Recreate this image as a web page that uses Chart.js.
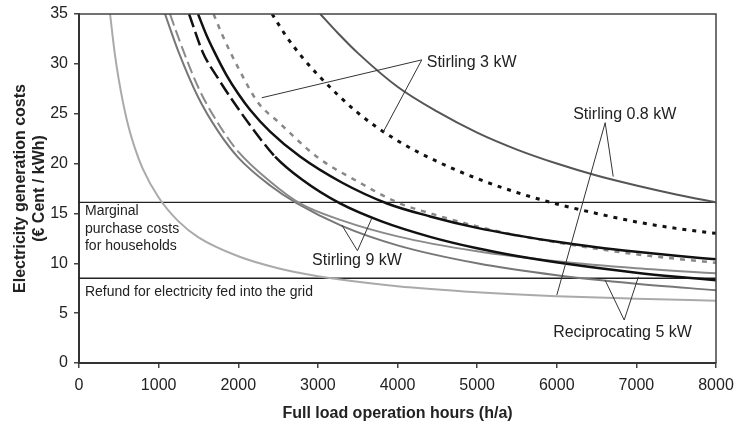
<!DOCTYPE html>
<html lang="en">
<head>
    <meta charset="UTF-8">
    <title>Electricity generation costs</title>
    <script src="https://cdn.jsdelivr.net/npm/chart.js"></script>
    <style>
        body { margin: 0; background: #fff; }
    </style>
</head>
<body>
    <canvas id="chart" width="735" height="424"></canvas>

    <script>
        // curves (hours h/a -> cost in ct/kWh)
        const hoursLight = [390, 450, 500, 600, 700, 800, 1000, 1250, 1500, 2000, 2500, 3000, 4000, 5000, 6000, 7000, 8000];
        const costLight = [35, 31.0, 28.4, 24.4, 21.6, 19.5, 16.6, 14.2, 12.6, 10.7, 9.5, 8.7, 7.7, 7.1, 6.7, 6.45, 6.25];

        const hoursTop = [3030, 3250, 3500, 4000, 4500, 5000, 5500, 6000, 6500, 7000, 7500, 8000];
        const costTop = [35, 33.1, 31.1, 27.7, 25.2, 23.1, 21.4, 20.0, 18.8, 17.8, 16.9, 16.1];

        const hoursBlackDot = [2425, 2600, 2800, 3000, 3500, 4000, 4500, 5000, 5500, 6000, 6500, 7000, 7500, 8000];
        const costBlackDot = [35, 32.8, 30.7, 28.9, 25.1, 22.3, 20.2, 18.5, 17.1, 15.95, 15.0, 14.15, 13.5, 13.0];

        const hoursGreyDot = [1690, 1800, 2000, 2250, 2500, 3000, 3500, 4000, 4500, 5000, 5500, 6000, 6500, 7000, 7500, 8000];
        const costGreyDot = [35, 32.9, 29.6, 26.1, 24.2, 20.6, 18.2, 16.1, 14.8, 13.7, 12.8, 12.1, 11.45, 10.9, 10.45, 10.06];

        const hoursBlack1 = [1495, 1600, 1700, 1850, 2000, 2148, 2400, 2776, 3300, 3869, 4410, 5000, 5500, 6000, 6500, 7000, 7500, 8000];
        const costBlack1 = [35, 32.9, 31.2, 28.9, 27.0, 25.4, 23.2, 20.7, 18.1, 16.0, 14.7, 13.55, 12.8, 12.15, 11.6, 11.15, 10.75, 10.4];

        const hoursBlack2 = [1382, 1558, 1750, 1922, 2200, 2462, 2800, 3279, 3800, 4410, 5000, 5500, 6168, 7000, 7500, 8000];
        const costBlack2 = [35, 31.1, 28.5, 26.4, 23.3, 20.7, 18.4, 16.0, 14.2, 12.65, 11.5, 10.73, 9.9, 9.06, 8.65, 8.3];

        const hoursGrey1 = [1080, 1250, 1500, 1750, 2000, 2400, 2739, 3300, 4000, 5000, 6000, 7000, 8000];
        const costGrey1 = [35, 31.2, 26.6, 23.2, 20.6, 17.8, 16.0, 13.75, 11.8, 10.0, 8.8, 7.95, 7.3];

        const hoursGrey2 = [1143, 1250, 1500, 1750, 2000, 2400, 2776, 3300, 4000, 5000, 6000, 7000, 8000];
        const costGrey2 = [35, 32.6, 27.6, 24.0, 21.2, 18.2, 16.0, 14.3, 12.7, 11.2, 10.2, 9.5, 9.0];

        // horizontal reference levels
        const rangeHours = [0, 8000];
        const marginalCost = 16.1;
        const refundCost = 8.5;

        // texts and pointer lines, in data units
        const labels = [
            { text: "Stirling 3 kW", x: 4367, y: 30.1, size: 16 },
            { text: "Stirling 0.8 kW", x: 6206, y: 24.9, size: 16 },
            { text: "Stirling 9 kW", x: 2927, y: 10.3, size: 16 },
            { text: "Reciprocating 5 kW", x: 5955, y: 3.0, size: 16 },
            { text: "Marginal", x: 75, y: 15.2, size: 14 },
            { text: "purchase costs", x: 75, y: 13.4, size: 14 },
            { text: "for households", x: 75, y: 11.7, size: 14 },
            { text: "Refund for electricity fed into the grid", x: 75, y: 7.15, size: 14 }
        ];
        const pointers = [
            [[2295, 26.6], [4305, 30.4], [3823, 23.2]],
            [[6709, 18.7], [6608, 24.1], [6001, 6.82]],
            [[3300, 13.84], [3497, 11.26], [3677, 14.51]],
            [[6608, 8.3], [6847, 4.31], [7026, 8.65]]
        ];

        function pts(xs, ys) {
            return xs.map((x, i) => ({ x: x, y: ys[i] }));
        }

        // dashUntil: the dashes run out into a plain line past that hour
        function curve(xs, ys, color, width, dash, dashUntil) {
            const ds = {
                data: pts(xs, ys),
                borderColor: color,
                borderWidth: width,
                borderDash: dash || [],
                pointRadius: 0,
                fill: false,
                cubicInterpolationMode: "monotone"
            };
            if (dashUntil) {
                ds.borderDash = [];
                ds.segment = { borderDash: c => c.p0.parsed.x < dashUntil ? dash : [] };
            }
            return ds;
        }

        const extras = {
            id: "extras",
            afterDatasetsDraw(chart) {
                const ctx = chart.ctx;
                const a = chart.chartArea;
                const xs = chart.scales.x, ys = chart.scales.y;
                ctx.save();
                // frame (top and right)
                ctx.strokeStyle = "#444";
                ctx.lineWidth = 1.5;
                ctx.beginPath();
                ctx.moveTo(a.left, a.top);
                ctx.lineTo(a.right, a.top);
                ctx.lineTo(a.right, a.bottom);
                ctx.stroke();
                // pointers
                ctx.strokeStyle = "#333";
                ctx.lineWidth = 1;
                pointers.forEach(p => {
                    ctx.beginPath();
                    p.forEach((q, i) => {
                        const px = xs.getPixelForValue(q[0]), py = ys.getPixelForValue(q[1]);
                        if (i === 0) ctx.moveTo(px, py); else ctx.lineTo(px, py);
                    });
                    ctx.stroke();
                });
                // texts
                ctx.fillStyle = "#222";
                ctx.textBaseline = "middle";
                ctx.textAlign = "left";
                labels.forEach(l => {
                    ctx.font = l.size + "px 'Liberation Sans', Arial, sans-serif";
                    ctx.fillText(l.text, xs.getPixelForValue(l.x), ys.getPixelForValue(l.y));
                });
                ctx.restore();
            }
        };

        const tickFont = { size: 16, family: "'Liberation Sans', Arial" };
        const titleFont = { size: 16, weight: "bold", family: "'Liberation Sans', Arial" };

        new Chart(document.getElementById("chart"), {
            type: "line",
            data: {
                datasets: [
                    curve(hoursTop, costTop, "#555", 2),
                    curve(hoursBlackDot, costBlackDot, "#111", 3, [4, 6]),
                    curve(hoursBlack1, costBlack1, "#111", 2.5),
                    curve(hoursBlack2, costBlack2, "#111", 2.5, [14, 5], 2400),
                    curve(hoursGreyDot, costGreyDot, "#888", 2.5, [5, 6]),
                    curve(hoursGrey2, costGrey2, "#8a8a8a", 2, [12, 5], 1900),
                    curve(hoursGrey1, costGrey1, "#777", 2),
                    curve(hoursLight, costLight, "#aaa", 2),
                    curve(rangeHours, [marginalCost, marginalCost], "#222", 1.3),
                    curve(rangeHours, [refundCost, refundCost], "#222", 1.3)
                ]
            },
            options: {
                responsive: false,
                animation: false,
                devicePixelRatio: 1,
                layout: { padding: { top: 14, right: 19, left: 0, bottom: 0 } },
                plugins: { legend: { display: false }, tooltip: { enabled: false } },
                scales: {
                    x: {
                        type: "linear",
                        min: 0,
                        max: 8000,
                        ticks: { stepSize: 1000, color: "#222", padding: 8, font: tickFont, callback: v => String(v) },
                        grid: { drawOnChartArea: false, tickLength: 5, color: "#444", lineWidth: 1.5 },
                        border: { color: "#333", width: 2 },
                        title: {
                            display: true,
                            text: "Full load operation hours (h/a)",
                            color: "#222",
                            font: titleFont,
                            padding: { top: 0, bottom: 1 }
                        },
                        afterFit(s) { s.height = 61; s.paddingLeft = 0; s.paddingRight = 0; }
                    },
                    y: {
                        min: 0,
                        max: 35,
                        ticks: { stepSize: 5, color: "#222", padding: 6, font: tickFont, callback: v => String(v) },
                        grid: { drawOnChartArea: false, tickLength: 5, color: "#444", lineWidth: 1.5 },
                        border: { color: "#333", width: 2 },
                        title: {
                            display: true,
                            text: ["Electricity generation costs", "(€ Cent / kWh)"],
                            color: "#222",
                            font: titleFont,
                            padding: { top: 11, bottom: 0 }
                        },
                        afterFit(s) { s.width = 79; s.paddingTop = 0; s.paddingBottom = 0; }
                    }
                }
            },
            plugins: [extras]
        });
    </script>
</body>
</html>
